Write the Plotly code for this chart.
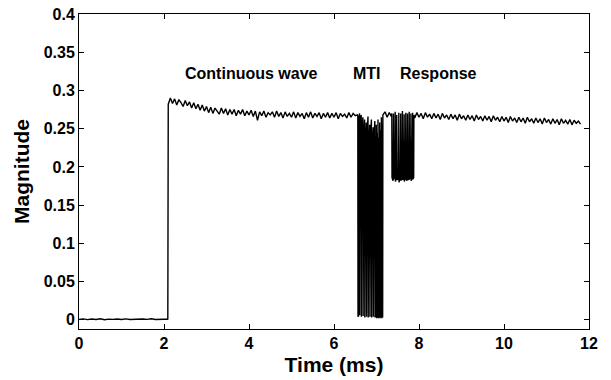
import numpy as np
import plotly.graph_objects as go

# ---- data ----
# Baseline before the wave starts, 0.0 .. 2.0 ms, step 0.1 ms
base_start, base_step = 0.0, 0.1
base_v = [0.0006, 0.0012, 0.0003, 0.0010, 0.0005, 0.0013, 0.0002, 0.0009, 0.0006, 0.0011,
          0.0004, 0.0012, 0.0005, 0.0008, 0.0003, 0.0011, 0.0006, 0.0013, 0.0004, 0.0009,
          0.0007]

# Step up
step_t = [2.08, 2.09]
step_v = [0.0008, 0.0010]

# Continuous wave, 2.10 .. 6.50 ms, step 0.05 ms
cw_start, cw_step = 2.10, 0.05
cw_v = [0.282, 0.290, 0.283, 0.289, 0.281, 0.288, 0.284, 0.279, 0.287, 0.280,
        0.285, 0.277, 0.284, 0.276, 0.282, 0.274, 0.281, 0.273, 0.279, 0.271,
        0.278, 0.270, 0.277, 0.272, 0.269, 0.277, 0.270, 0.276, 0.268, 0.275,
        0.269, 0.275, 0.267, 0.274, 0.269, 0.275, 0.267, 0.273, 0.268, 0.274,
        0.266, 0.273, 0.261, 0.272, 0.267, 0.273, 0.265, 0.271, 0.268, 0.272,
        0.265, 0.273, 0.266, 0.271, 0.264, 0.272, 0.266, 0.270, 0.265, 0.272,
        0.264, 0.271, 0.266, 0.270, 0.263, 0.271, 0.265, 0.272, 0.264, 0.270,
        0.266, 0.271, 0.263, 0.270, 0.265, 0.271, 0.264, 0.270, 0.265, 0.271,
        0.263, 0.270, 0.266, 0.269, 0.264, 0.271, 0.265, 0.270, 0.267]

# MTI section (irregular sample times)
mti_t = [6.55, 6.56, 6.565, 6.575, 6.58, 6.60, 6.605, 6.615, 6.64, 6.645,
         6.655, 6.68, 6.685, 6.70, 6.72, 6.725, 6.74, 6.76, 6.765, 6.78,
         6.80, 6.805, 6.82, 6.84, 6.845, 6.86, 6.88, 6.885, 6.90, 6.92,
         6.925, 6.94, 6.96, 6.965, 6.975, 6.985, 6.995, 7.005, 7.015, 7.025,
         7.035, 7.045, 7.055, 7.065, 7.075, 7.085, 7.095, 7.105, 7.115, 7.125,
         7.135, 7.145, 7.15, 7.20, 7.25, 7.30, 7.35]
mti_v = [0.268, 0.266, 0.005, 0.004, 0.262, 0.270, 0.006, 0.262, 0.268, 0.004,
         0.250, 0.265, 0.005, 0.240, 0.262, 0.003, 0.235, 0.258, 0.004, 0.245,
         0.266, 0.003, 0.230, 0.255, 0.004, 0.240, 0.262, 0.003, 0.228, 0.252,
         0.004, 0.236, 0.260, 0.003, 0.240, 0.003, 0.255, 0.002, 0.245, 0.003,
         0.262, 0.002, 0.238, 0.003, 0.258, 0.002, 0.248, 0.003, 0.265, 0.002,
         0.255, 0.003, 0.268, 0.272, 0.265, 0.271, 0.266]

# Response section
resp_t = [7.36, 7.365, 7.39, 7.40, 7.405, 7.43, 7.44, 7.445, 7.47, 7.475,
          7.49, 7.52, 7.525, 7.53, 7.56, 7.57, 7.575, 7.60, 7.61, 7.615,
          7.64, 7.65, 7.655, 7.68, 7.69, 7.695, 7.72, 7.73, 7.735, 7.76,
          7.77, 7.775, 7.80, 7.81, 7.815, 7.84, 7.85, 7.855, 7.875, 7.88]
resp_v = [0.270, 0.186, 0.182, 0.270, 0.184, 0.188, 0.272, 0.181, 0.186, 0.268,
          0.183, 0.185, 0.271, 0.180, 0.186, 0.270, 0.182, 0.187, 0.273, 0.183,
          0.185, 0.269, 0.181, 0.186, 0.271, 0.184, 0.182, 0.270, 0.187, 0.183,
          0.272, 0.184, 0.186, 0.270, 0.182, 0.185, 0.271, 0.184, 0.186, 0.268]

# Tail, 7.90 .. 11.80 ms, step 0.05 ms
tail_start, tail_step = 7.90, 0.05
tail_v = [0.264, 0.271, 0.265, 0.270, 0.263, 0.271, 0.265, 0.269, 0.263, 0.270,
          0.264, 0.269, 0.262, 0.270, 0.264, 0.268, 0.262, 0.269, 0.263, 0.268,
          0.261, 0.269, 0.263, 0.267, 0.261, 0.268, 0.262, 0.267, 0.260, 0.268,
          0.262, 0.266, 0.260, 0.267, 0.261, 0.266, 0.259, 0.267, 0.261, 0.265,
          0.259, 0.266, 0.260, 0.265, 0.258, 0.266, 0.260, 0.264, 0.258, 0.265,
          0.259, 0.264, 0.257, 0.265, 0.259, 0.263, 0.257, 0.264, 0.258, 0.263,
          0.256, 0.264, 0.258, 0.262, 0.256, 0.263, 0.257, 0.262, 0.255, 0.263,
          0.257, 0.261, 0.256, 0.262, 0.255, 0.261, 0.257, 0.260, 0.256]

x_ticks = [0, 2, 4, 6, 8, 10, 12]
y_ticks = [0, 0.05, 0.1, 0.15, 0.2, 0.25, 0.3, 0.35, 0.4]
y_tick_text = ["0", "0.05", "0.1", "0.15", "0.2", "0.25", "0.3", "0.35", "0.4"]

labels = [("Continuous wave", 4.05, 0.322), ("MTI", 6.78, 0.322), ("Response", 8.45, 0.322)]

# ---- assemble ----
def grid(start, step, vals):
    return [round(start + step * i, 4) for i in range(len(vals))]

t = grid(base_start, base_step, base_v) + step_t + grid(cw_start, cw_step, cw_v) + mti_t + resp_t + grid(tail_start, tail_step, tail_v)
v = base_v + step_v + cw_v + mti_v + resp_v + tail_v

FONT = "Liberation Sans, Arial, sans-serif"

fig = go.Figure()
fig.add_trace(go.Scatter(x=t, y=v, mode="lines", line=dict(color="black", width=1.4), showlegend=False))

for txt, xx, yy in labels:
    fig.add_annotation(x=xx, y=yy, text=txt, showarrow=False, xref="x", yref="y",
                       font=dict(family=FONT, size=16, color="black", weight="bold"))

axis_font = dict(family=FONT, size=16, color="black", weight="bold")
fig.update_layout(
    width=611, height=380,
    margin=dict(l=79, r=22, t=14, b=51),
    paper_bgcolor="white", plot_bgcolor="white",
    xaxis=dict(range=[0, 12], tickvals=x_ticks, ticks="inside", ticklen=5, tickcolor="black",
               showline=True, linecolor="black", linewidth=1, mirror="ticks", showgrid=False,
               zeroline=False, tickfont=axis_font, automargin=False,
               title=dict(text="Time (ms)", standoff=6,
                          font=dict(family=FONT, size=21, color="black", weight="bold"))),
    yaxis=dict(range=[-0.012, 0.4], tickvals=y_ticks, ticktext=y_tick_text, ticks="inside", ticklen=5,
               tickcolor="black", showline=True, linecolor="black", linewidth=1, mirror="ticks",
               showgrid=False, zeroline=False, tickfont=axis_font, automargin=False,
               title=dict(text="Magnitude", standoff=8,
                          font=dict(family=FONT, size=21, color="black", weight="bold"))),
)

fig.write_html("out.html")
